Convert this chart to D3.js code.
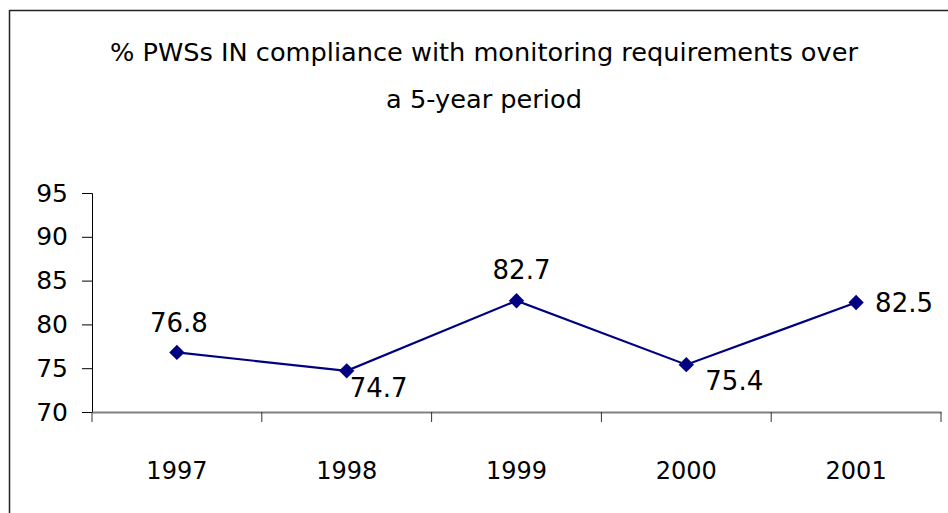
<!DOCTYPE html>
<html><head><meta charset="utf-8">
<script src="https://cdn.jsdelivr.net/npm/d3@7"></script>
<style>body{margin:0;background:#fff}svg{display:block}</style>
</head><body>
<svg id="c" width="948" height="513"></svg>
<script>
const categories = ["1997","1998","1999","2000","2001"];
const values = [76.8, 74.7, 82.7, 75.4, 82.5];
const yTicks = [70,75,80,85,90,95];
const titleLines = ["% PWSs IN compliance with monitoring requirements over","a 5-year period"];
// label placement per point: dx, dy, anchor
const labelPos = [
  {dx:2, dy:-20, a:"middle"},
  {dx:3, dy:26, a:"start"},
  {dx:5, dy:-22, a:"middle"},
  {dx:19, dy:25, a:"start"},
  {dx:19, dy:9, a:"start"}
];
const FONT = "'Comic Sans MS','DejaVu Sans',sans-serif";
const svg = d3.select("#c");
// frame
svg.append("line").attr("x1",9.5).attr("x2",948).attr("y1",10.5).attr("y2",10.5).attr("stroke","#222").attr("stroke-width",1.5);
svg.append("line").attr("x1",9.5).attr("x2",9.5).attr("y1",10).attr("y2",513).attr("stroke","#222").attr("stroke-width",1.5);

const x = d3.scaleBand().domain(categories).range([92,941]);
const y = d3.scaleLinear().domain([70,95]).range([412,193]);

// title
const titleTargets = [748, 196];
const titleY = [61, 108];
let titleSize = 24;
titleLines.forEach((t,i)=>{
  const el = svg.append("text").attr("x",484).attr("y",titleY[i]).attr("text-anchor","middle")
    .style("font-family",FONT).style("font-size","24px").text(t);
  if (i===0) titleSize = 24*titleTargets[0]/el.node().getComputedTextLength();
  el.style("font-size",titleSize+"px");
});

// y axis
const ya = svg.append("g").attr("transform","translate(92,0)")
  .call(d3.axisLeft(y).tickValues(yTicks).tickSize(10).tickPadding(14).tickFormat(d3.format("d")));
ya.select(".domain").attr("stroke","#000").attr("stroke-width",1);
ya.selectAll(".tick line").attr("stroke","#000");
ya.selectAll("text").style("font-family",FONT).style("font-size","25px").attr("fill","#000");

// x axis
const xa = svg.append("g").attr("transform","translate(0,412)")
  .call(d3.axisBottom(x).tickSize(0).tickPadding(50));
xa.select(".domain").attr("stroke","#808080").attr("stroke-width",2);
xa.selectAll("text").style("font-family",FONT).style("font-size","24px").attr("fill","#000");
const bounds = categories.map(c=>x(c)).concat([x.range()[1]]);
svg.append("g").selectAll("line").data(bounds).join("line")
  .attr("x1",d=>d).attr("x2",d=>d).attr("y1",412).attr("y2",422).attr("stroke","#333").attr("stroke-width",1);

const cx = c => x(c)+x.bandwidth()/2;
const pts = categories.map((c,i)=>({c, v:values[i], i}));
svg.append("path").datum(pts)
  .attr("d", d3.line().x(d=>cx(d.c)).y(d=>y(d.v)))
  .attr("fill","none").attr("stroke","#000080").attr("stroke-width",2.2);
svg.append("g").selectAll("path").data(pts).join("path")
  .attr("transform",d=>`translate(${cx(d.c)},${y(d.v)})`)
  .attr("d", d3.symbol(d3.symbolDiamond2, 150)).attr("fill","#000080");
svg.append("g").selectAll("text").data(pts).join("text")
  .attr("x",d=>cx(d.c)+labelPos[d.i].dx).attr("y",d=>y(d.v)+labelPos[d.i].dy)
  .attr("text-anchor",d=>labelPos[d.i].a)
  .style("font-family",FONT).style("font-size","26px").text(d=>d.v.toFixed(1));
</script>
</body></html>
